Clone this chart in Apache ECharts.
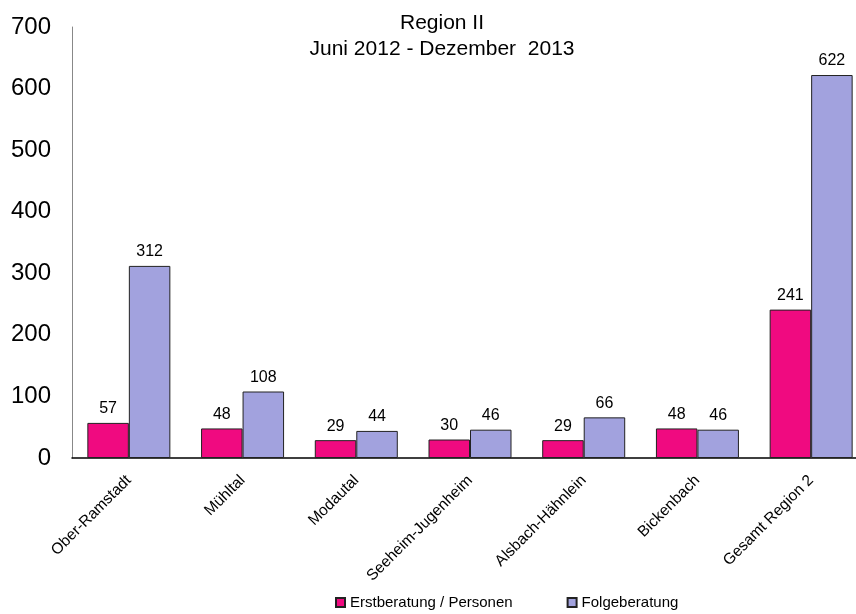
<!DOCTYPE html>
<html><head><meta charset="utf-8">
<script src="https://cdn.jsdelivr.net/npm/echarts@6/dist/echarts.min.js"></script>
<style>html,body{margin:0;padding:0;background:#fff;overflow:hidden}#c{width:868px;height:614px}</style>
</head><body><div id="c"></div>
<script>
var categories = ['Ober-Ramstadt','Mühltal','Modautal','Seeheim-Jugenheim','Alsbach-Hähnlein','Bickenbach','Gesamt Region 2'];
var erstberatung = [57,48,29,30,29,48,241];
var folgeberatung = [312,108,44,46,66,46,622];
var seriesNames = ['Erstberatung / Personen','Folgeberatung'];
var titleLines = ['Region II','Juni 2012 - Dezember  2013'];
var ff = '"Liberation Sans", Arial, sans-serif';
var chart = echarts.init(document.getElementById('c'));
chart.setOption({
  animation:false,
  textStyle:{fontFamily:ff},
  title:{text:titleLines.join('\n'),left:437,textAlign:'center',top:5,
    textStyle:{fontFamily:ff,fontSize:21,fontWeight:'normal',color:'#000',lineHeight:26}},
  legend:{bottom:4,left:335,padding:0,itemWidth:9,itemHeight:9,itemGap:54,
    textStyle:{fontFamily:ff,fontSize:15,color:'#000'},
    data:seriesNames.map(function(n){return {name:n,icon:'rect'};})},
  grid:{left:72,top:27,right:0,height:431},
  xAxis:{type:'category',data:categories,
    axisLine:{lineStyle:{color:'#000',width:1.5}},axisTick:{show:false},
    axisLabel:{rotate:45,fontSize:15.5,color:'#000',fontFamily:ff,margin:20,interval:0}},
  yAxis:{type:'value',min:0,max:700,interval:100,
    axisLine:{show:true,lineStyle:{color:'#888'}},axisTick:{show:false},splitLine:{show:false},
    axisLabel:{fontSize:24,color:'#000',fontFamily:ff,margin:21}},
  series:[
    {name:seriesNames[0],type:'bar',data:erstberatung,barWidth:41.5,barGap:'0%',
     itemStyle:{color:'#F00A80',borderColor:'#222',borderWidth:1},
     label:{show:true,position:'top',fontSize:16,color:'#000',fontFamily:ff,distance:6}},
    {name:seriesNames[1],type:'bar',data:folgeberatung,barWidth:41.5,
     itemStyle:{color:'#A2A2DE',borderColor:'#222',borderWidth:1},
     label:{show:true,position:'top',fontSize:16,color:'#000',fontFamily:ff,distance:6}}
  ]
});
</script></body></html>
